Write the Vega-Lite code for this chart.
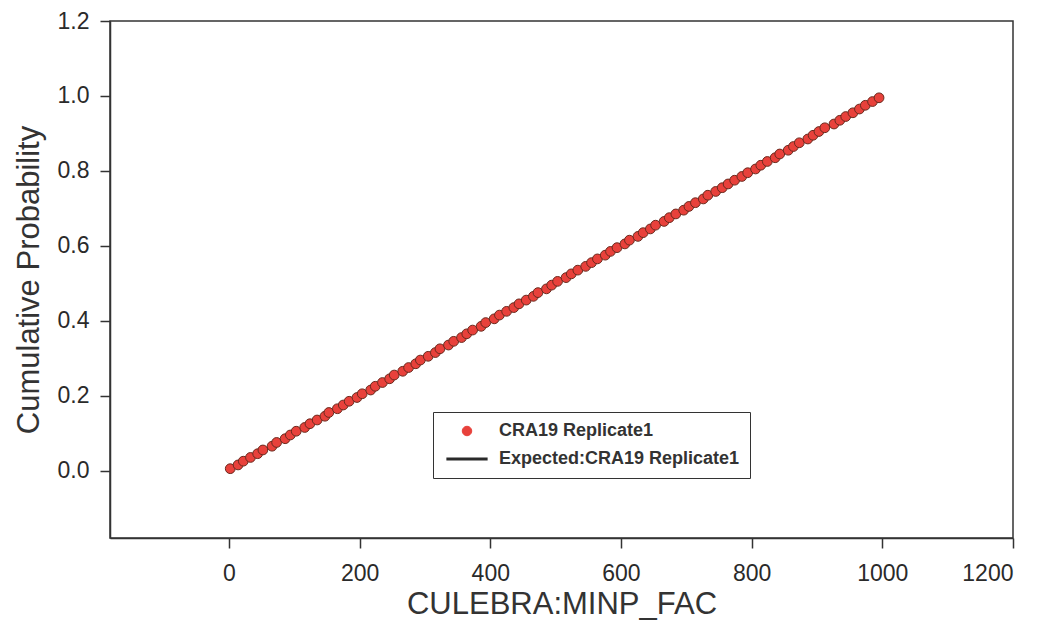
{
  "$schema": "https://vega.github.io/schema/vega-lite/v6.json",
  "width": 903,
  "height": 517,
  "autosize": {"type": "none"},
  "padding": {"left": 110, "top": 21, "right": 32, "bottom": 100},
  "background": "white",
  "config": {
    "font": "Liberation Sans",
    "view": {"stroke": "#333333", "strokeWidth": 1.5},
    "axis": {
      "domainColor": "#333333",
      "domainWidth": 1.5,
      "tickColor": "#333333",
      "tickWidth": 1.5,
      "tickSize": 10,
      "grid": false,
      "labelFont": "Liberation Sans",
      "labelFontSize": 23,
      "labelColor": "#2a2a2a",
      "titleFont": "Liberation Sans",
      "titleFontSize": 31,
      "titleFontWeight": "normal",
      "titleColor": "#333333"
    }
  },
  "datasets": {
    "obs": [
      {"x": 2, "p": 0.005}, {"x": 14, "p": 0.015}, {"x": 22, "p": 0.025}, {"x": 33, "p": 0.035}, {"x": 44, "p": 0.045},
      {"x": 52, "p": 0.055}, {"x": 66, "p": 0.065}, {"x": 73, "p": 0.075}, {"x": 86, "p": 0.085}, {"x": 94, "p": 0.095},
      {"x": 103, "p": 0.105}, {"x": 116, "p": 0.115}, {"x": 124, "p": 0.125}, {"x": 135, "p": 0.135}, {"x": 147, "p": 0.145},
      {"x": 153, "p": 0.155}, {"x": 166, "p": 0.165}, {"x": 175, "p": 0.175}, {"x": 184, "p": 0.185}, {"x": 196, "p": 0.195},
      {"x": 204, "p": 0.205}, {"x": 217, "p": 0.215}, {"x": 224, "p": 0.225}, {"x": 235, "p": 0.235}, {"x": 246, "p": 0.245},
      {"x": 253, "p": 0.255}, {"x": 266, "p": 0.265}, {"x": 275, "p": 0.275}, {"x": 286, "p": 0.285}, {"x": 293, "p": 0.295},
      {"x": 305, "p": 0.305}, {"x": 316, "p": 0.315}, {"x": 323, "p": 0.325}, {"x": 336, "p": 0.335}, {"x": 344, "p": 0.345},
      {"x": 356, "p": 0.355}, {"x": 364, "p": 0.365}, {"x": 373, "p": 0.375}, {"x": 386, "p": 0.385}, {"x": 393, "p": 0.395},
      {"x": 406, "p": 0.405}, {"x": 414, "p": 0.415}, {"x": 425, "p": 0.425}, {"x": 436, "p": 0.435}, {"x": 444, "p": 0.445},
      {"x": 455, "p": 0.455}, {"x": 466, "p": 0.465}, {"x": 473, "p": 0.475}, {"x": 486, "p": 0.485}, {"x": 494, "p": 0.495},
      {"x": 503, "p": 0.505}, {"x": 516, "p": 0.515}, {"x": 524, "p": 0.525}, {"x": 534, "p": 0.535}, {"x": 546, "p": 0.545},
      {"x": 555, "p": 0.555}, {"x": 564, "p": 0.565}, {"x": 576, "p": 0.575}, {"x": 584, "p": 0.585}, {"x": 594, "p": 0.595},
      {"x": 606, "p": 0.605}, {"x": 613, "p": 0.615}, {"x": 626, "p": 0.625}, {"x": 634, "p": 0.635}, {"x": 645, "p": 0.645},
      {"x": 653, "p": 0.655}, {"x": 666, "p": 0.665}, {"x": 674, "p": 0.675}, {"x": 684, "p": 0.685}, {"x": 696, "p": 0.695},
      {"x": 704, "p": 0.705}, {"x": 714, "p": 0.715}, {"x": 726, "p": 0.725}, {"x": 733, "p": 0.735}, {"x": 745, "p": 0.745},
      {"x": 755, "p": 0.755}, {"x": 764, "p": 0.765}, {"x": 774, "p": 0.775}, {"x": 785, "p": 0.785}, {"x": 794, "p": 0.795},
      {"x": 806, "p": 0.805}, {"x": 814, "p": 0.815}, {"x": 824, "p": 0.825}, {"x": 836, "p": 0.835}, {"x": 843, "p": 0.845},
      {"x": 856, "p": 0.855}, {"x": 864, "p": 0.865}, {"x": 873, "p": 0.875}, {"x": 886, "p": 0.885}, {"x": 894, "p": 0.895},
      {"x": 903, "p": 0.905}, {"x": 912, "p": 0.915}, {"x": 926, "p": 0.925}, {"x": 935, "p": 0.935}, {"x": 944, "p": 0.945},
      {"x": 955, "p": 0.955}, {"x": 965, "p": 0.965}, {"x": 974, "p": 0.975}, {"x": 985, "p": 0.985}, {"x": 995, "p": 0.995}
    ],
    "expected": [
      {"x": 0, "p": 0.0},
      {"x": 1000, "p": 1.0}
    ]
  },
  "layer": [
    {
      "data": {"name": "expected"},
      "mark": {"type": "line", "strokeWidth": 2.5, "clip": true},
      "transform": [{"calculate": "'Expected:CRA19 Replicate1'", "as": "series"}],
      "encoding": {
        "x": {
          "field": "x", "type": "quantitative",
          "scale": {"domain": [-182, 1200], "nice": false, "zero": false},
          "axis": {"title": "CULEBRA:MINP_FAC", "values": [0, 200, 400, 600, 800, 1000, 1200], "format": "d", "labelPadding": 14, "titlePadding": 4}
        },
        "y": {
          "field": "p", "type": "quantitative",
          "scale": {"domain": [-0.18, 1.2], "nice": false, "zero": false},
          "axis": {"title": "Cumulative Probability", "values": [0, 0.2, 0.4, 0.6, 0.8, 1.0, 1.2], "format": ".1f", "labelPadding": 11, "titlePadding": 12}
        },
        "color": {
          "field": "series", "type": "nominal",
          "scale": {"domain": ["CRA19 Replicate1", "Expected:CRA19 Replicate1"], "range": ["#e8413b", "#2a2a2a"]},
          "legend": {
            "title": null,
            "orient": "none",
            "legendX": 323,
            "legendY": 391,
            "direction": "vertical",
            "strokeColor": "#333333",
            "fillColor": "white",
            "padding": 10,
            "rowPadding": 10,
            "labelFont": "Liberation Sans",
            "labelFontSize": 18,
            "labelFontWeight": "bold",
            "labelColor": "#333333",
            "labelOffset": 38,
            "labelLimit": 400,
            "encode": {
              "symbols": {
                "update": {
                  "x": {"value": 24},
                  "shape": {"signal": "datum.value == 'CRA19 Replicate1' ? 'circle' : 'stroke'"},
                  "size": {"signal": "datum.value == 'CRA19 Replicate1' ? 90 : 1700"},
                  "fill": {"signal": "datum.value == 'CRA19 Replicate1' ? '#e8413b' : 'transparent'"},
                  "stroke": {"signal": "datum.value == 'CRA19 Replicate1' ? '#6a2a1e' : '#2a2a2a'"},
                  "strokeWidth": {"signal": "datum.value == 'CRA19 Replicate1' ? 1 : 3"},
                  "opacity": {"value": 1}
                }
              }
            }
          }
        }
      }
    },
    {
      "data": {"name": "obs"},
      "mark": {"type": "point", "filled": true, "shape": "circle", "size": 95, "stroke": "#6a2a1e", "strokeWidth": 1, "opacity": 1},
      "transform": [{"calculate": "'CRA19 Replicate1'", "as": "series"}],
      "encoding": {
        "x": {"field": "x", "type": "quantitative"},
        "y": {"field": "p", "type": "quantitative"},
        "color": {"field": "series", "type": "nominal"}
      }
    }
  ]
}
